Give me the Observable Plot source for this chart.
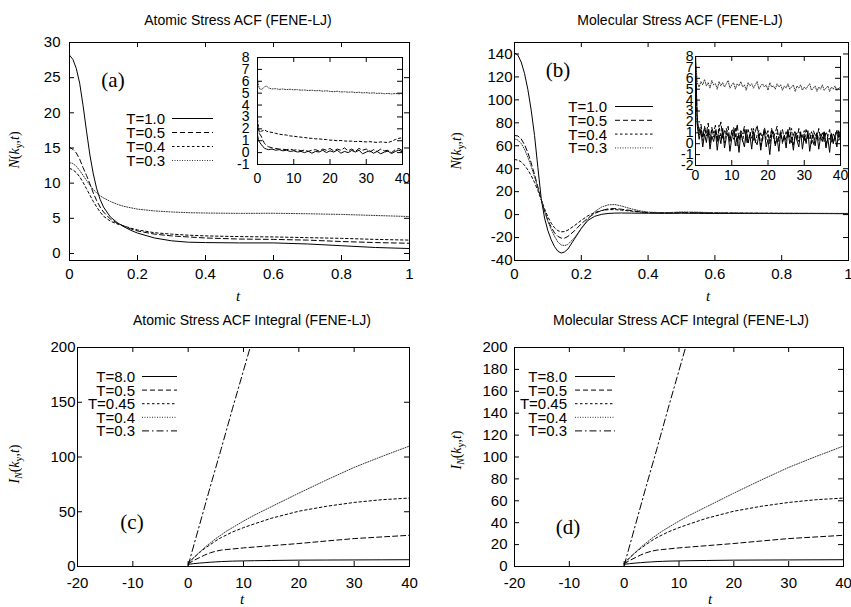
<!DOCTYPE html>
<html><head><meta charset="utf-8">
<script src="https://cdn.jsdelivr.net/npm/d3@7"></script>
<script src="https://cdn.jsdelivr.net/npm/@observablehq/plot@0.6"></script>
<style>
html,body{margin:0;padding:0;background:#fff;}
#root{position:relative;width:851px;height:607px;overflow:hidden;font-family:"Liberation Sans",Arial,sans-serif;color:#000;}
.abs{position:absolute;white-space:nowrap;line-height:1;}
.title{font-size:14px;transform:translate(-50%,-50%);}
.xl{font-family:"Liberation Serif",serif;font-style:italic;font-size:15px;transform:translate(-50%,-50%);}
.yl{font-family:"Liberation Serif",serif;font-size:14px;transform:translate(-50%,-50%) rotate(-90deg);}
.yl sub{font-size:70%;vertical-align:-0.3em;line-height:0;}
.pl{font-family:"Liberation Serif",serif;font-size:21px;transform:translate(-50%,-50%);}
.leg{font-size:15px;transform:translate(-100%,-50%);}
</style>
</head><body><div id="root"></div><script>
// ---------------- data: panel (a) atomic stress ACF ----------------
const aTime = [0,0.01,0.02,0.03,0.04,0.05,0.06,0.07,0.08,0.09,0.1,0.12,0.14,0.16,0.18,0.2,0.25,0.3,0.35,0.4,0.5,0.6,0.7,0.8,0.9,1.0];
const aT10 = [28.2,27.6,26.3,24.2,21.0,17.4,14.0,11.3,9.2,7.7,6.6,5.2,4.4,3.8,3.3,2.9,2.2,1.8,1.6,1.55,1.5,1.5,1.35,1.1,0.85,0.7];
const aT05 = [15.1,14.8,14.3,13.4,12.2,11.1,9.9,8.6,7.5,6.6,5.9,4.9,4.3,3.9,3.5,3.2,2.75,2.5,2.35,2.2,2.05,2.0,1.9,1.7,1.55,1.45];
const aT04 = [12.1,11.9,11.5,10.9,10.1,9.2,8.3,7.4,6.6,5.9,5.3,4.6,4.2,3.9,3.6,3.35,2.95,2.75,2.6,2.5,2.4,2.35,2.25,2.15,2.0,1.9];
const aT03 = [12.9,12.8,12.4,11.8,11.1,10.4,9.7,9.1,8.6,8.2,7.9,7.4,7.0,6.7,6.5,6.3,6.05,5.9,5.8,5.75,5.7,5.72,5.65,5.55,5.4,5.25];
const aXTicks = [0,0.2,0.4,0.6,0.8,1];
const aYTicks = [0,5,10,15,20,25,30];

// inset (a)
const iaTime = [0,0.25,0.5,1,1.5,2,2.5,3,4,5,6,7,8,9,10,11,12,13,14,15,16,17,18,19,20,21,22,23,24,25,26,27,28,29,30,31,32,33,34,35,36,37,38,39,40];
const iaT03 = [6.2,5.7,5.4,5.3,5.4,5.55,5.6,5.45,5.35,5.38,5.32,5.35,5.3,5.33,5.28,5.3,5.25,5.27,5.22,5.25,5.2,5.22,5.17,5.2,5.15,5.12,5.16,5.1,5.12,5.08,5.1,5.05,5.08,5.02,5.05,5.0,5.03,4.98,5.0,4.95,4.98,4.93,4.97,4.94,4.97];
const iaT04 = [2.8,2.2,1.7,1.8,1.85,1.9,1.8,1.75,1.7,1.62,1.55,1.5,1.48,1.4,1.38,1.33,1.3,1.27,1.22,1.2,1.16,1.15,1.12,1.1,1.05,1.04,1.0,1.02,0.98,0.96,0.97,0.93,0.95,0.92,0.9,0.92,0.88,0.86,0.9,0.87,0.85,0.95,1.1,1.2,1.25];
const iaT05 = [2.3,1.9,1.6,1.4,1.0,0.75,0.6,0.5,0.4,0.35,0.3,0.28,0.25,0.3,0.2,0.25,0.15,0.22,0.1,0.2,0.25,0.12,0.3,0.2,0.35,0.15,0.3,0.2,0.4,0.15,0.3,0.1,0.35,0.2,0.3,0.05,0.25,0.1,0.3,0.15,0.2,0.0,0.25,0.35,0.15];
const iaT10 = [1.5,1.1,0.9,0.7,0.5,0.35,0.3,0.25,0.3,0.2,0.25,0.15,0.2,0.1,0.15,0.05,0.1,0.0,0.12,-0.05,0.1,0.05,0.2,0.0,0.15,0.05,0.2,-0.05,0.1,0.0,0.18,0.05,0.2,-0.1,0.05,0.15,-0.05,0.1,-0.1,0.05,0.12,-0.08,0.1,0.2,0.05];
const insetXTicks = [0,10,20,30,40];
const iaYTicks = [-1,0,1,2,3,4,5,6,7,8];

// ---------------- data: panel (b) molecular stress ACF ----------------
const bTime = [0,0.01,0.02,0.03,0.04,0.05,0.06,0.07,0.08,0.09,0.1,0.11,0.12,0.13,0.14,0.15,0.16,0.18,0.2,0.22,0.24,0.26,0.28,0.3,0.32,0.35,0.38,0.4,0.45,0.5,0.55,0.6,0.7,0.8,0.9,1.0];
const bT10 = [141,139,133,123,109,91,69,41,14,-3,-14,-22,-28,-32,-33.5,-32.5,-30,-21,-12,-5,-1.5,0.2,1,1.3,1.4,1.3,1.2,1.2,1.1,1.2,1.1,1.0,1.0,0.9,0.9,0.8];
const bT05 = [69,68.5,66,61,54,45,35,24,13,3,-5,-11,-16,-19,-20.5,-20.5,-19,-14,-8,-3,1,3.5,5,5.3,4.7,3.5,2.3,1.8,1.5,1.7,1.6,1.3,1.1,1.0,1.0,0.9];
const bT04 = [48,47.5,46,43,39,34,28,21,13,5,-2,-7.5,-11.5,-14,-15,-14.8,-13.5,-9.5,-5,-1,1.8,3.5,4.3,4.4,3.9,3,2.1,1.7,1.5,1.8,1.7,1.4,1.2,1.1,1.0,1.0];
const bT03 = [66,65,62,57,50,42,33,23,13,3,-6,-13,-19,-24,-26.5,-27,-26,-20,-12,-4,2.5,6.5,8.5,8.8,7.5,5,3,2.2,1.6,2.3,2.1,1.6,1.3,1.2,1.1,1.0];
const bXTicks = [0,0.2,0.4,0.6,0.8,1];
const bYTicks = [-40,-20,0,20,40,60,80,100,120,140];

// inset (b)
const ibTime = [0,0.5,1,1.5,2,2.5,3,3.5,4,4.5,5,5.5,6,6.5,7,7.5,8,8.5,9,9.5,10,10.5,11,11.5,12,12.5,13,13.5,14,14.5,15,15.5,16,16.5,17,17.5,18,18.5,19,19.5,20,20.5,21,21.5,22,22.5,23,23.5,24,24.5,25,25.5,26,26.5,27,27.5,28,28.5,29,29.5,30,30.5,31,31.5,32,32.5,33,33.5,34,34.5,35,35.5,36,36.5,37,37.5,38,38.5,39,39.5,40];
const ibT03 = [7.6,5.6,5.2,5.7,5.4,5.9,5.3,5.6,5.1,5.8, 5.4,5.5,5.0,5.7,5.3,5.6,5.2,5.5,5.8,5.1, 5.4,5.6,5.0,5.5,5.3,5.7,5.2,5.4,4.9,5.6, 5.3,5.5,5.1,5.4,5.7,5.0,5.3,5.5,5.2,5.4, 4.9,5.6,5.2,5.3,5.0,5.5,5.2,5.4,4.9,5.3, 5.1,5.5,5.0,5.2,5.4,4.8,5.3,5.1,5.4,4.9, 5.2,5.0,5.3,5.5,4.9,5.1,5.3,4.8,5.2,5.0, 5.4,4.9,5.1,5.3,4.8,5.2,5.0,5.3,4.9,5.1, 5.2];
const ibT05 = [7.0,2.2,1.1,1.8,0.6,1.5,0.9,1.9,0.3,1.4, 1.0,1.7,0.4,1.3,2.0,0.5,1.2,0.8,1.6,0.2, 1.1,1.5,0.6,1.8,0.3,1.2,0.9,1.6,0.1,1.3, 0.7,1.4,0.2,1.1,1.7,0.5,1.0,0.3,1.5,0.8, 1.2,0.0,1.4,0.6,1.0,1.6,0.2,0.9,1.3,0.4, 1.1,0.6,1.5,0.1,0.8,1.2,0.3,1.4,0.7,0.9, 0.2,1.3,0.6,1.0,0.0,1.2,0.8,0.4,1.4,0.5, 1.0,0.2,1.1,0.7,1.3,0.1,0.9,0.5,1.2,0.6, 0.8];
const ibT04 = [6.0,1.8,0.8,1.4,0.3,1.6,0.7,1.2,0.0,1.5, 0.6,1.3,0.2,1.7,0.5,1.0,0.1,1.4,0.8,0.3, 1.2,0.4,1.5,-0.2,0.9,1.1,0.2,1.3,0.6,0.0, 1.0,0.5,1.4,0.1,0.8,1.2,-0.3,0.7,1.1,0.4, 0.9,0.2,1.3,0.6,-0.1,1.0,0.5,1.2,0.0,0.8, 0.3,1.1,0.6,1.4,-0.2,0.7,1.0,0.2,0.9,0.5, 1.2,0.0,0.8,0.4,1.1,-0.1,0.6,1.0,0.3,0.9, 0.5,1.1,-0.2,0.7,0.4,1.0,0.1,0.8,1.2,0.3, 0.6];
const ibT10 = [8.5,1.6,0.4,1.2,-0.3,0.9,0.1,1.3,-0.5,0.7, 0.2,1.1,-0.6,0.8,0.0,1.4,-0.4,0.6,0.9,-0.7, 0.5,1.2,-0.2,0.7,-0.8,1.0,0.3,-0.3,1.3,0.1, 0.8,-0.5,1.1,0.2,-0.1,0.9,-0.6,0.6,1.2,-0.3, 0.4,-1.0,0.8,1.1,-0.2,0.5,-0.7,1.0,0.2,0.7, -0.4,1.3,0.0,0.6,-0.6,0.9,0.3,-0.3,1.1,-0.5, 0.7,0.1,1.2,-0.7,0.4,0.8,-0.2,1.0,-0.5,0.6, 0.2,1.1,-0.4,0.5,-0.8,0.9,0.0,0.7,-0.3,1.2, 0.3];
const ibYTicks = [-2,-1,0,1,2,3,4,5,6,7,8];

// ---------------- data: panels (c),(d) integrals ----------------
const cTime = [0,1,2,3,4,5,6,7,8,10,12,15,20,25,30,35,40];
const cT80 = [2,2.6,3.1,3.5,3.9,4.2,4.5,4.7,4.9,5.1,5.3,5.5,5.8,5.9,6.0,6.1,6.2];
const cT05 = [2.5,5.5,8,10.5,12.5,14,15,15.5,16,17,17.8,19,21,23.3,25.5,27,28.5];
const cT045 = [3,8,12.5,16.5,20,23.5,26.5,29,31.5,35.5,39,44,50.5,55,58.5,61,62.5];
const cT04 = [3,8,12.8,17.5,21.5,25.5,29,32.5,35.5,41.5,47,54.5,67,79,90.5,100.5,110];
const cT03Time = [0,2,4,6,8,10,12];
const cT03 = [1,37,73,108,144,179,214];
const cXTicks = [-20,-10,0,10,20,30,40];
const cYTicks = [0,50,100,150,200];
const dYTicks = [0,20,40,60,80,100,120,140,160,180,200];

// ---------------- styles ----------------
const DASH = {solid:null, dashed:"5,3", short:"2.5,2.5", dotted:"1,1.5", dashdot:"7,3,1.5,3"};
const COLOR = {solid:"#000", dashed:"#000", short:"#000", dotted:"#333", dashdot:"#000"};
const root = document.getElementById("root");

function ser(t, v, style){ return {t, v, style}; }

function panel(o){
  const fw = o.width - o.ml - o.mr, fh = o.height - o.mt - o.mb;
  const tl = o.tl ?? 5;
  const fs = o.fs ?? 15;
  const marks = [];
  for (const s of o.series){
    marks.push(Plot.line(s.t.map((t,i)=>({t, v:s.v[i]})), {
      x:"t", y:"v", stroke:COLOR[s.style], strokeWidth:1,
      strokeDasharray:DASH[s.style], clip:true, curve:"linear"
    }));
  }
  marks.push(Plot.frame({stroke:"#000", strokeWidth:1}));
  marks.push(Plot.tickX(o.xTicks, {x:d=>d, insetTop: fh - tl, stroke:"#000"}));
  marks.push(Plot.tickX(o.xTicks, {x:d=>d, insetBottom: fh - tl, stroke:"#000"}));
  marks.push(Plot.tickY(o.yTicks, {y:d=>d, insetRight: fw - tl, stroke:"#000"}));
  marks.push(Plot.tickY(o.yTicks, {y:d=>d, insetLeft: fw - tl, stroke:"#000"}));
  marks.push(Plot.axisX(o.xTicks, {anchor:"bottom", tickSize:0, tickPadding:o.xpad, tickFormat:d=>String(d), label:null, fontSize:fs}));
  marks.push(Plot.axisY(o.yTicks, {anchor:"left", tickSize:0, tickPadding:o.ypad, tickFormat:d=>String(d), label:null, fontSize:fs}));
  const svg = Plot.plot({
    width:o.width, height:o.height,
    marginLeft:o.ml, marginRight:o.mr, marginTop:o.mt, marginBottom:o.mb,
    x:{domain:o.xd}, y:{domain:o.yd},
    style:{fontFamily:"'Liberation Sans', Arial, sans-serif", fontSize:fs+"px", color:"#000", background:"transparent", overflow:"visible"},
    marks
  });
  svg.style.position = "absolute";
  svg.style.left = o.left + "px";
  svg.style.top = o.top + "px";
  svg.style.maxWidth = "none";
  root.appendChild(svg);
}

function text(cls, html, x, y){
  const d = document.createElement("div");
  d.className = "abs " + cls;
  d.style.left = x + "px"; d.style.top = y + "px";
  d.innerHTML = html;
  root.appendChild(d);
}

const overlay = d3.select(root).append("svg")
  .attr("width", 851).attr("height", 607)
  .style("position","absolute").style("left","0px").style("top","0px")
  .style("pointer-events","none");

function legend(cfg){
  cfg.entries.forEach((e,i)=>{
    const y = cfg.y0 + i*cfg.dy;
    text("leg", e.label, cfg.textRight, y);
    overlay.append("line")
      .attr("x1", cfg.x1).attr("x2", cfg.x2).attr("y1", y+0.5).attr("y2", y+0.5)
      .attr("stroke", COLOR[e.style]).attr("stroke-width", 1)
      .attr("stroke-dasharray", DASH[e.style]);
  });
}

// ---------------- panel (a) ----------------
panel({left:0, top:0, width:425, height:303, ml:69, mr:16, mt:42, mb:43,
  xd:[0,1], yd:[-1,30], xTicks:aXTicks, yTicks:aYTicks, xpad:8, ypad:9,
  series:[ser(aTime,aT10,"solid"), ser(aTime,aT05,"dashed"), ser(aTime,aT04,"short"), ser(aTime,aT03,"dotted")]});
panel({left:215, top:45, width:195, height:145, ml:42, mr:8, mt:12, mb:26,
  xd:[0,40], yd:[-1,8], xTicks:insetXTicks, yTicks:iaYTicks, xpad:9, ypad:8, fs:14,
  series:[ser(iaTime,iaT10,"solid"), ser(iaTime,iaT05,"dashed"), ser(iaTime,iaT04,"short"), ser(iaTime,iaT03,"dotted")]});

// ---------------- panel (b) ----------------
panel({left:425, top:0, width:426, height:303, ml:89, mr:3, mt:42, mb:43,
  xd:[0,1], yd:[-40,150], xTicks:bXTicks, yTicks:bYTicks, xpad:8, ypad:2,
  series:[ser(bTime,bT10,"solid"), ser(bTime,bT05,"dashed"), ser(bTime,bT04,"short"), ser(bTime,bT03,"dotted")]});
panel({left:655, top:44, width:192, height:145, ml:40, mr:7, mt:12, mb:24,
  xd:[0,40], yd:[-2,8], xTicks:insetXTicks, yTicks:ibYTicks, xpad:5, ypad:2, fs:14,
  series:[ser(ibTime,ibT03,"dotted"), ser(ibTime,ibT05,"dashed"), ser(ibTime,ibT04,"short"), ser(ibTime,ibT10,"solid")]});

// ---------------- panel (c) ----------------
const cSeries = [ser(cTime,cT80,"solid"), ser(cTime,cT05,"dashed"), ser(cTime,cT045,"short"), ser(cTime,cT04,"dotted"), ser(cT03Time,cT03,"dashdot")];
panel({left:0, top:303, width:425, height:304, ml:77, mr:16, mt:44, mb:41,
  xd:[-20,40], yd:[0,200], xTicks:cXTicks, yTicks:cYTicks, xpad:11, ypad:2,
  series:cSeries});
// ---------------- panel (d) ----------------
panel({left:425, top:303, width:426, height:304, ml:89, mr:8, mt:44, mb:41,
  xd:[-20,40], yd:[0,200], xTicks:cXTicks, yTicks:dYTicks, xpad:11, ypad:7,
  series:cSeries});

// ---------------- text ----------------
text("title", "Atomic Stress ACF (FENE-LJ)", 238, 20);
text("title", "Molecular Stress ACF (FENE-LJ)", 680, 20);
text("title", "Atomic Stress ACF Integral (FENE-LJ)", 252, 320);
text("title", "Molecular Stress ACF Integral (FENE-LJ)", 681, 320);
text("xl", "t", 238, 296);
text("xl", "t", 708, 296);
text("xl", "t", 242, 599);
text("xl", "t", 710, 599);
const yN = "<i>N</i>(<i>k</i><sub>y</sub>,<i>t</i>)";
const yI = "<i>I</i><sub><i>N</i></sub>(<i>k</i><sub>y</sub>,<i>t</i>)";
text("yl", yN, 15, 150);
text("yl", yN, 457, 151);
text("yl", yI, 15, 464);
text("yl", yI, 457, 450);
text("pl", "(a)", 113, 80);
text("pl", "(b)", 558, 70);
text("pl", "(c)", 132, 522);
text("pl", "(d)", 568, 527);

const legTop = [{label:"T=1.0", style:"solid"},{label:"T=0.5", style:"dashed"},{label:"T=0.4", style:"short"},{label:"T=0.3", style:"dotted"}];
const legBot = [{label:"T=8.0", style:"solid"},{label:"T=0.5", style:"dashed"},{label:"T=0.45", style:"short"},{label:"T=0.4", style:"dotted"},{label:"T=0.3", style:"dashdot"}];
legend({entries:legTop, textRight:165, y0:118, dy:14, x1:172, x2:213});
legend({entries:legTop, textRight:607, y0:106, dy:13.8, x1:615, x2:653});
legend({entries:legBot, textRight:135, y0:376, dy:13.6, x1:142, x2:177});
legend({entries:legBot, textRight:567, y0:376, dy:13.6, x1:575, x2:615});
</script></body></html>
